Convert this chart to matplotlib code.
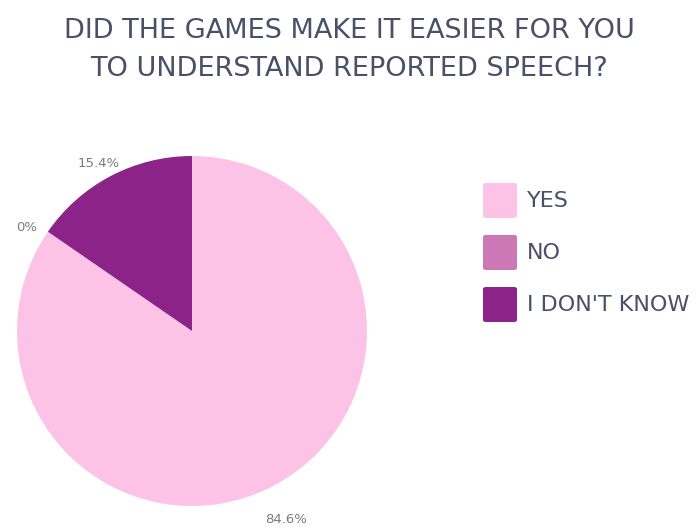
import matplotlib
matplotlib.use('Agg')
import matplotlib.pyplot as plt
from matplotlib.patches import FancyBboxPatch
import numpy as np

plt.rcParams['font.family'] = ['DejaVu Sans']

# survey answers
labels = ['YES', 'NO', "I DON'T KNOW"]
shares = [84.6, 0.0, 15.4]
colors = ['#fdc3e7', '#cd78b6', '#8b2388']

title_color = '#4b5068'
label_color = '#7a7a80'

W, H = 699, 528
fig = plt.figure(figsize=(W / 100, H / 100), dpi=100)

# pie area: centre (192, 331) px, radius 175 px
cx, cy, r = 192, 331, 175
ax = fig.add_axes([(cx - r) / W, (H - cy - r) / H, 2 * r / W, 2 * r / H])
wedges, _ = ax.pie(shares, colors=colors, startangle=90, counterclock=False,
                   radius=1.0, wedgeprops=dict(linewidth=0))
ax.set_xlim(-1, 1)
ax.set_ylim(-1, 1)
ax.set_aspect('equal')
ax.axis('off')

# percent labels outside each wedge
for w, v in zip(wedges, shares):
    mid = np.deg2rad((w.theta1 + w.theta2) / 2)
    d = 1.15
    txt = f'{v:g}%'
    ax.text(d * np.cos(mid), d * np.sin(mid) - 0.06, txt, ha='center', va='center',
            fontsize=9.5, color=label_color, clip_on=False)

# title
fig.text(0.5, 1 - 31 / H, 'DID THE GAMES MAKE IT EASIER FOR YOU',
         ha='center', va='center', fontsize=19.5, color=title_color)
fig.text(0.5, 1 - 69 / H, 'TO UNDERSTAND REPORTED SPEECH?',
         ha='center', va='center', fontsize=19.5, color=title_color)

# legend boxes
for i, (lab, col) in enumerate(zip(labels, colors)):
    y0 = 183 + i * 52
    box = FancyBboxPatch((483 / W, 1 - (y0 + 35) / H), 34 / W, 35 / H,
                         boxstyle='round,pad=0,rounding_size=0.004',
                         transform=fig.transFigure, facecolor=col,
                         edgecolor='none')
    fig.patches.append(box)
    fig.text(527 / W, 1 - (y0 + 18) / H, lab, ha='left', va='center',
             fontsize=16, color=title_color)

fig.savefig('out.png', dpi=100)
